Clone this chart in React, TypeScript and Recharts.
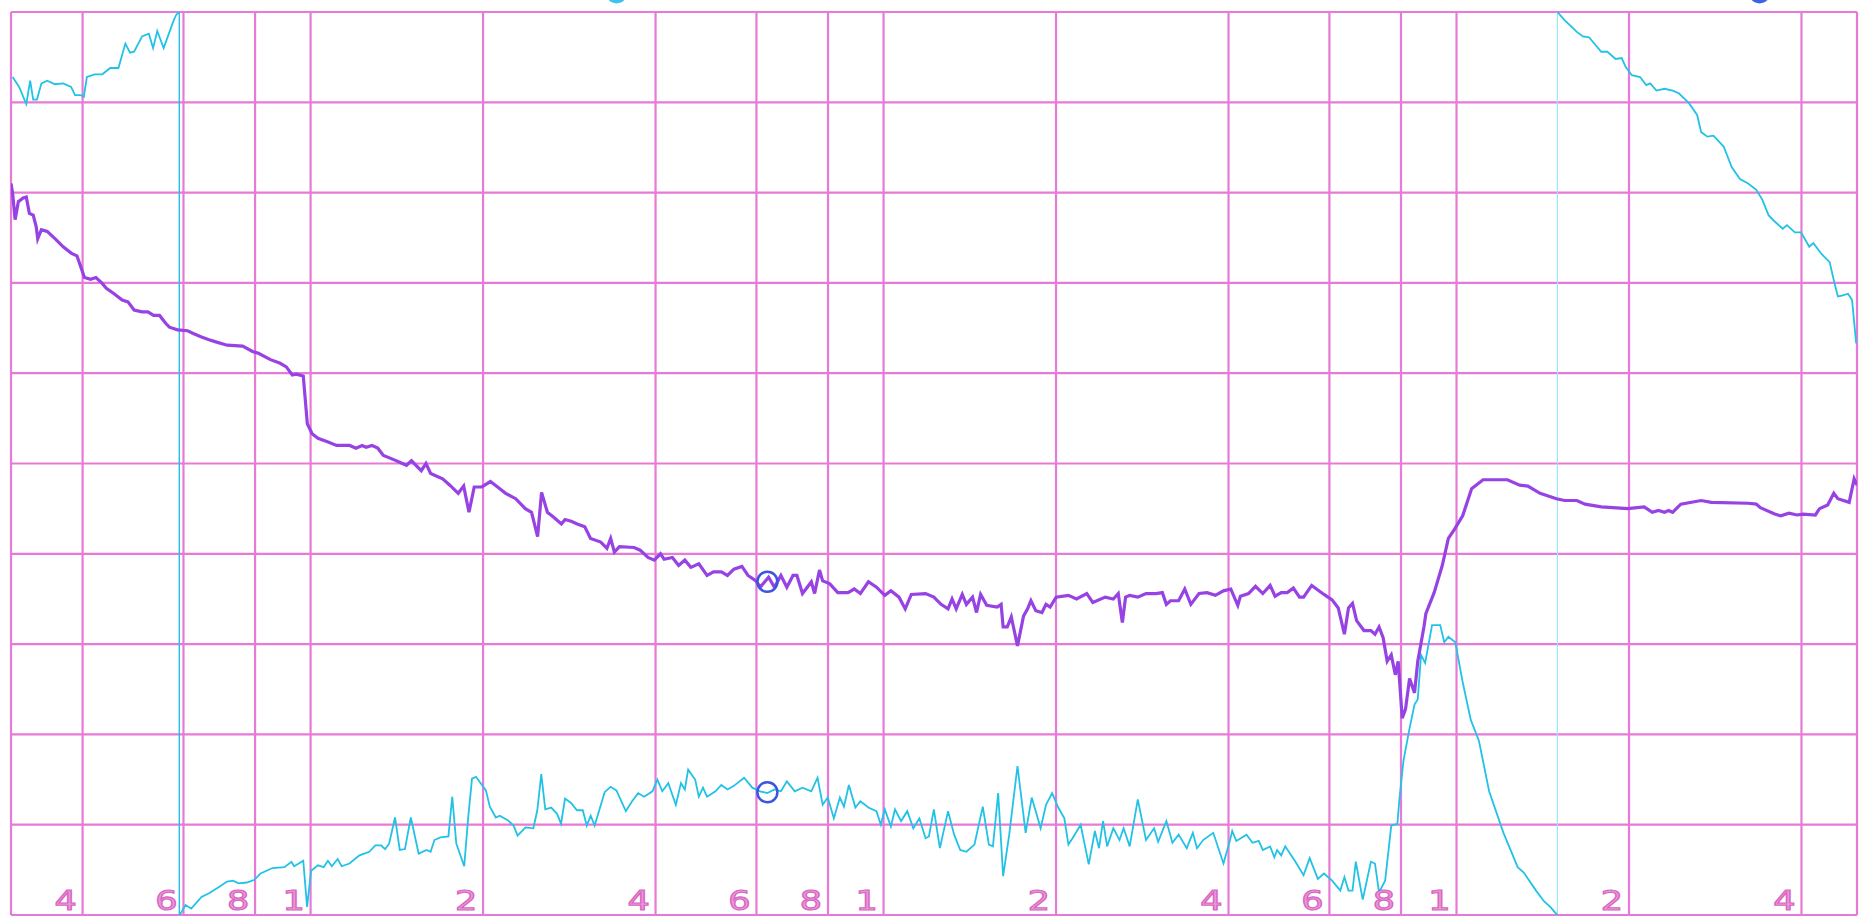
import React from "react";
import {
  LineChart,
  Line,
  XAxis,
  YAxis,
  CartesianGrid,
  ReferenceDot,
} from "recharts";

// frequency grid of the recorder paper (Hz) and the digits printed on it
const gridFreqs = [30, 40, 60, 80, 100, 200, 400, 600, 800, 1000, 2000, 4000, 6000, 8000, 10000, 20000, 40000, 50000];
const gridDigits = ["", "4", "6", "8", "1", "2", "4", "6", "8", "1", "2", "4", "6", "8", "1", "2", "4", ""];
const levelTicks = [0, 1, 2, 3, 4, 5, 6, 7, 8, 9, 10];

// purple pen: [Hz, divisions]
const purpleTrace: [number, number][] = [
  [30, 8.1], [30.2, 7.99], [30.5, 7.7], [30.9, 7.9], [31.5, 7.94], [31.9, 7.95], [32.3, 7.77], [32.8, 7.75],
  [33.2, 7.62], [33.4, 7.49], [33.9, 7.59], [34.7, 7.57], [35.8, 7.49], [37, 7.4], [38.2, 7.33], [39.1, 7.3],
  [39.7, 7.18], [40.3, 7.06], [41.3, 7.04], [42.2, 7.06], [43.2, 7.0], [44, 6.94], [45.4, 6.88], [46.9, 6.81],
  [48, 6.79], [49.2, 6.7], [50.8, 6.68], [52, 6.68], [53.2, 6.64], [54.5, 6.64], [55.9, 6.55], [56.7, 6.51],
  [58.6, 6.48], [61, 6.47], [62.4, 6.44], [64.5, 6.4], [66.5, 6.37], [68.1, 6.35], [71.5, 6.31], [76.1, 6.3],
  [79.2, 6.24], [81.1, 6.22], [85.1, 6.15], [88.5, 6.11], [90.7, 6.07], [92.9, 5.98], [94.4, 5.99], [97.1, 5.97],
  [98.7, 5.44], [100.6, 5.33], [103, 5.28], [107, 5.24], [111, 5.2], [117, 5.2], [120, 5.17], [123, 5.2],
  [125, 5.18], [128, 5.2], [131, 5.17], [134, 5.09], [140, 5.04], [147, 4.98], [150, 5.03], [156, 4.92],
  [159, 5.0], [162, 4.89], [170, 4.83], [175, 4.76], [181, 4.67], [185, 4.75], [189, 4.46], [193, 4.74],
  [199, 4.74], [206, 4.8], [212, 4.74], [219, 4.67], [228, 4.61], [237, 4.5], [243, 4.46], [249, 4.19],
  [253, 4.68], [259, 4.46], [265, 4.41], [274, 4.33], [278, 4.38], [285, 4.36], [292, 4.33], [301, 4.3],
  [308, 4.17], [321, 4.13], [329, 4.06], [334, 4.17], [339, 4.02], [346, 4.08], [367, 4.07], [376, 4.04],
  [388, 3.96], [398, 3.93], [408, 4.0], [414, 3.94], [428, 3.96], [439, 3.87], [450, 3.93], [461, 3.85],
  [476, 3.89], [492, 3.76], [505, 3.8], [521, 3.8], [534, 3.76], [548, 3.83], [566, 3.86], [580, 3.76],
  [599, 3.7], [609, 3.63], [630, 3.74], [645, 3.63], [662, 3.76], [678, 3.63], [695, 3.76], [706, 3.76],
  [722, 3.56], [736, 3.63], [748, 3.69], [758, 3.56], [773, 3.82], [783, 3.7], [805, 3.67], [832, 3.57],
  [867, 3.57], [889, 3.61], [911, 3.56], [941, 3.69], [972, 3.63], [1005, 3.54], [1030, 3.59], [1064, 3.52],
  [1091, 3.39], [1118, 3.55], [1184, 3.56], [1224, 3.52], [1260, 3.44], [1296, 3.39], [1317, 3.5], [1339, 3.39],
  [1372, 3.55], [1395, 3.44], [1430, 3.52], [1453, 3.35], [1477, 3.55], [1514, 3.43], [1578, 3.41], [1604, 3.44],
  [1617, 3.19], [1644, 3.19], [1671, 3.3], [1713, 2.98], [1755, 3.31], [1784, 3.39], [1808, 3.48], [1844, 3.37],
  [1890, 3.35], [1921, 3.44], [1953, 3.41], [2001, 3.52], [2102, 3.54], [2172, 3.5], [2263, 3.56], [2319, 3.46],
  [2437, 3.52], [2518, 3.5], [2568, 3.56], [2611, 3.24], [2645, 3.52], [2689, 3.54], [2778, 3.52], [2871, 3.56],
  [2991, 3.56], [3066, 3.57], [3116, 3.44], [3167, 3.48], [3273, 3.48], [3355, 3.61], [3438, 3.44], [3553, 3.56],
  [3671, 3.57], [3794, 3.54], [3920, 3.59], [4037, 3.61], [4152, 3.43], [4196, 3.53], [4335, 3.56], [4458, 3.64],
  [4591, 3.56], [4728, 3.65], [4823, 3.53], [4943, 3.57], [5065, 3.57], [5191, 3.62], [5321, 3.52], [5408, 3.52],
  [5588, 3.65], [5728, 3.6], [5871, 3.55], [6066, 3.49], [6217, 3.4], [6373, 3.11], [6478, 3.4], [6584, 3.45],
  [6693, 3.26], [6893, 3.15], [7088, 3.15], [7206, 3.11], [7325, 3.19], [7446, 3.07], [7568, 2.81], [7693, 2.88],
  [7820, 2.66], [7910, 2.81], [8040, 2.18], [8147, 2.28], [8281, 2.62], [8447, 2.46], [8558, 2.81], [8772, 3.19],
  [8843, 3.34], [9140, 3.57], [9443, 3.87], [9678, 4.17], [9917, 4.27], [10250, 4.42], [10625, 4.72], [11125, 4.82],
  [12270, 4.82], [12893, 4.76], [13321, 4.75], [13989, 4.67], [14941, 4.61], [15437, 4.59], [16218, 4.59],
  [16757, 4.55], [17890, 4.52], [19900, 4.5], [21257, 4.52], [21963, 4.46], [22510, 4.48], [23068, 4.46],
  [23449, 4.48], [23836, 4.46], [24633, 4.55], [26730, 4.59], [27847, 4.57], [32280, 4.56], [33360, 4.55],
  [33910, 4.51], [35920, 4.44], [36810, 4.42], [38040, 4.45], [39300, 4.43], [40270, 4.44], [42300, 4.43],
  [43010, 4.5], [44440, 4.54], [45550, 4.67], [46300, 4.61], [48450, 4.57], [49430, 4.83], [50000, 4.76],
];

// cyan pen, before it runs off the top of the paper
const cyanLowFreq: [number, number][] = [
  [30.2, 9.28], [31, 9.17], [31.9, 8.98], [32.4, 9.24], [32.8, 9.03], [33.3, 9.03], [33.9, 9.21], [34.7, 9.24],
  [35.8, 9.2], [37, 9.21], [38.2, 9.17], [38.8, 9.08], [39.7, 9.08], [40.2, 9.06], [40.7, 9.28], [42, 9.31],
  [43.3, 9.31], [44.7, 9.38], [46.2, 9.38], [47.5, 9.65], [48.4, 9.55], [49.2, 9.56], [50.8, 9.73], [52.2, 9.76],
  [53.1, 9.6], [54, 9.79], [55.4, 9.6], [57.7, 9.91], [58.3, 9.97], [59, 10],
];

// cyan pen after wrapping to the bottom, up to where it wraps again
const cyanMidFreq: [number, number][] = [
  [59, 0], [59.5, 0.03], [60.5, 0.11], [61.9, 0.07], [64.5, 0.2], [66.5, 0.24], [69.2, 0.31], [71.5, 0.37],
  [73.2, 0.38], [74.9, 0.35], [77.4, 0.36], [79.8, 0.39], [81.8, 0.46], [85.8, 0.52], [90, 0.53], [92.6, 0.59],
  [93.6, 0.54], [97.1, 0.6], [98.6, 0.09], [100.2, 0.49], [103, 0.55], [105.4, 0.53], [107.2, 0.6], [108.9, 0.54],
  [111.5, 0.62], [113.3, 0.54], [116.9, 0.57], [121.7, 0.66], [126.6, 0.7], [129.7, 0.77], [132.8, 0.77],
  [134.9, 0.73], [137.1, 0.79], [140.4, 1.08], [143.1, 0.72], [146.1, 0.73], [149.6, 1.08], [154.4, 0.68],
  [159.4, 0.72], [162, 0.7], [164.5, 0.83], [168.5, 0.86], [174, 0.87], [176.7, 1.31], [179.6, 0.79],
  [185.4, 0.54], [188.4, 1.08], [191.3, 1.51], [194.4, 1.53], [197.5, 1.47], [202.3, 1.38], [205.5, 1.2],
  [210.5, 1.08], [213.9, 1.1], [220.8, 1.05], [226.1, 0.99], [229.8, 0.88], [237.2, 0.97], [244.8, 0.96],
  [248.7, 1.16], [252.7, 1.56], [256.8, 1.17], [263, 1.19], [269.3, 1.12], [273.6, 1.01], [278, 1.29],
  [284.8, 1.24], [291.6, 1.16], [298.6, 1.16], [303.4, 0.99], [308.2, 1.1], [313.2, 0.99], [326, 1.36],
  [333.8, 1.42], [341.8, 1.38], [355, 1.15], [364, 1.26], [373, 1.35], [382, 1.31], [395, 1.37], [403, 1.5],
  [411, 1.37], [421, 1.46], [434, 1.22], [443, 1.46], [450, 1.39], [456, 1.61], [469, 1.5], [476, 1.31],
  [484, 1.41], [492, 1.31], [509, 1.37], [521, 1.44], [534, 1.39], [548, 1.43], [571, 1.52], [590, 1.41],
  [609, 1.37], [627, 1.35], [645, 1.39], [662, 1.37], [678, 1.48], [700, 1.37], [722, 1.41], [748, 1.37],
  [767, 1.52], [783, 1.22], [799, 1.3], [819, 1.07], [839, 1.3], [853, 1.2], [870, 1.44], [893, 1.19],
  [911, 1.26], [941, 1.19], [972, 1.15], [989, 1.0], [1005, 1.17], [1030, 0.98], [1047, 1.17], [1073, 1.04],
  [1100, 1.15], [1127, 0.96], [1155, 1.07], [1184, 0.85], [1200, 0.87], [1224, 1.17], [1254, 0.74],
  [1296, 1.15], [1328, 0.89], [1361, 0.72], [1395, 0.7], [1441, 0.78], [1490, 1.2], [1527, 0.78],
  [1552, 0.76], [1585, 1.35], [1617, 0.43], [1657, 0.89], [1713, 1.65], [1770, 0.91], [1814, 1.3],
  [1880, 0.96], [1921, 1.22], [1969, 1.35], [2018, 1.19], [2068, 1.07], [2102, 0.78], [2137, 0.85],
  [2208, 1.0], [2281, 0.56], [2338, 0.93], [2377, 0.74], [2416, 1.04], [2456, 0.76], [2518, 0.96],
  [2581, 0.83], [2624, 0.96], [2689, 0.76], [2778, 1.28], [2871, 0.83], [2966, 0.96], [3015, 0.81],
  [3116, 1.04], [3193, 0.8], [3273, 0.89], [3382, 0.74], [3466, 0.91], [3524, 0.74], [3612, 0.83],
  [3762, 0.91], [3920, 0.57], [4018, 0.81], [4060, 0.93], [4128, 0.82], [4300, 0.89], [4406, 0.8],
  [4516, 0.82], [4591, 0.72], [4728, 0.76], [4808, 0.64], [4863, 0.72], [4943, 0.66], [5024, 0.76],
  [5235, 0.59], [5408, 0.44], [5543, 0.63], [5728, 0.4], [5871, 0.46], [6066, 0.38], [6269, 0.27],
  [6373, 0.42], [6478, 0.27], [6584, 0.27], [6671, 0.59], [6860, 0.17], [7088, 0.59], [7206, 0.57],
  [7325, 0.25], [7506, 0.38], [7693, 0.99], [7885, 1.01], [7951, 1.29], [8081, 1.71], [8281, 2.07],
  [8447, 2.33], [8558, 2.39], [8672, 2.88], [8815, 2.79], [9064, 3.21], [9365, 3.21], [9519, 3.02],
  [9678, 3.08], [9952, 3.02], [10250, 2.58], [10590, 2.16], [10942, 1.93], [11400, 1.37], [12076, 0.91],
  [12787, 0.53], [13103, 0.47], [13765, 0.27], [14223, 0.15], [14578, 0.09], [14894, 0.02], [15000, 0],
];

// cyan pen after wrapping back to the top
const cyanHighFreq: [number, number][] = [
  [15000, 10], [15437, 9.91], [16218, 9.78], [16620, 9.73], [17030, 9.72], [17890, 9.56], [18336, 9.56],
  [18950, 9.48], [19421, 9.49], [19740, 9.39], [20230, 9.3], [20910, 9.28], [21430, 9.19], [21780, 9.21],
  [22330, 9.13], [23068, 9.15], [23836, 9.13], [24430, 9.1], [25450, 8.99], [26300, 8.86], [26730, 8.67],
  [27400, 8.62], [28080, 8.63], [29260, 8.51], [30230, 8.28], [31240, 8.15], [32280, 8.1], [33360, 8.03],
  [34190, 7.92], [35040, 7.75], [35920, 7.68], [37110, 7.6], [37730, 7.64], [38960, 7.56], [39930, 7.56],
  [41270, 7.4], [41960, 7.44], [43350, 7.32], [44800, 7.23], [45550, 7.03], [46300, 6.85], [47060, 6.86],
  [48230, 6.88], [49020, 6.81], [49830, 6.33],
];

// pen-return strokes where the cyan trace wraps round
const cyanWrapDown: [number, number][] = [[59, 10], [59, 0]];
const cyanWrapUp: [number, number][] = [[15000, 0], [15000, 10]];

// hand-drawn circle marks
const penMarks = [
  { hz: 627, level: 3.69, color: "#3b55e0", fill: "none" },
  { hz: 627, level: 1.36, color: "#3b55e0", fill: "none" },
  { hz: 342, level: 10.22, color: "#3cc4ea", fill: "#3cc4ea" },
  { hz: 33800, level: 10.22, color: "#3e63e6", fill: "#3e63e6" },
];

const toPoints = (arr: [number, number][]) => arr.map(([hz, level]) => ({ hz, level }));

const GRID = "#e77ad6";
const PURPLE = "#9742e2";
const CYAN = "#22c2e6";

function DigitTick(props: any) {
  const { x, y, payload } = props;
  const idx = gridFreqs.indexOf(Number(payload?.value));
  const label = idx >= 0 ? gridDigits[idx] : "";
  if (!label) return <g />;
  return (
    <text
      transform={`translate(${x - 17}, ${y - 5}) scale(1.35, 1)`}
      textAnchor="middle"
      fontFamily="DejaVu Sans"
      fontSize={26}
      fill="#eb96da"
      stroke="#d865c0"
      strokeWidth={1.1}
    >
      {label}
    </text>
  );
}

function NoTick() {
  return <g />;
}

export default function App() {
  return (
    <div
      style={{
        position: "absolute",
        top: 0,
        left: 0,
        width: 1859,
        height: 917,
        background: "#ffffff",
        overflow: "hidden",
      }}
    >
      <LineChart width={1859} height={917} margin={{ top: 12, right: 2, bottom: 2, left: 11 }}>
        <CartesianGrid stroke={GRID} strokeWidth={2.2} />
        <XAxis
          dataKey="hz"
          type="number"
          scale="log"
          domain={[30, 50000]}
          ticks={gridFreqs}
          allowDataOverflow
          mirror
          axisLine={false}
          tickLine={false}
          tickSize={0}
          tickMargin={0}
          interval={0}
          tick={DigitTick}
        />
        <YAxis
          dataKey="level"
          type="number"
          domain={[0, 10]}
          ticks={levelTicks}
          allowDataOverflow
          mirror
          interval={0}
          tick={NoTick}
          axisLine={false}
          tickLine={false}
        />
        <Line data={toPoints(cyanWrapDown)} dataKey="level" stroke={CYAN} strokeWidth={1.4} dot={false} isAnimationActive={false} />
        <Line data={toPoints(cyanWrapUp)} dataKey="level" stroke="#9fe6f4" strokeWidth={1.2} dot={false} isAnimationActive={false} />
        <Line data={toPoints(cyanLowFreq)} dataKey="level" stroke={CYAN} strokeWidth={1.8} dot={false} isAnimationActive={false} />
        <Line data={toPoints(cyanMidFreq)} dataKey="level" stroke={CYAN} strokeWidth={1.8} dot={false} isAnimationActive={false} />
        <Line data={toPoints(cyanHighFreq)} dataKey="level" stroke={CYAN} strokeWidth={1.8} dot={false} isAnimationActive={false} />
        <Line data={toPoints(purpleTrace)} dataKey="level" stroke={PURPLE} strokeWidth={3.2} dot={false} isAnimationActive={false} />
        {penMarks.map((m, i) => (
          <ReferenceDot
            key={i}
            x={m.hz}
            y={m.level}
            r={10}
            fill={m.fill}
            stroke={m.color}
            strokeWidth={2.5}
            ifOverflow="visible"
          />
        ))}
      </LineChart>
    </div>
  );
}
